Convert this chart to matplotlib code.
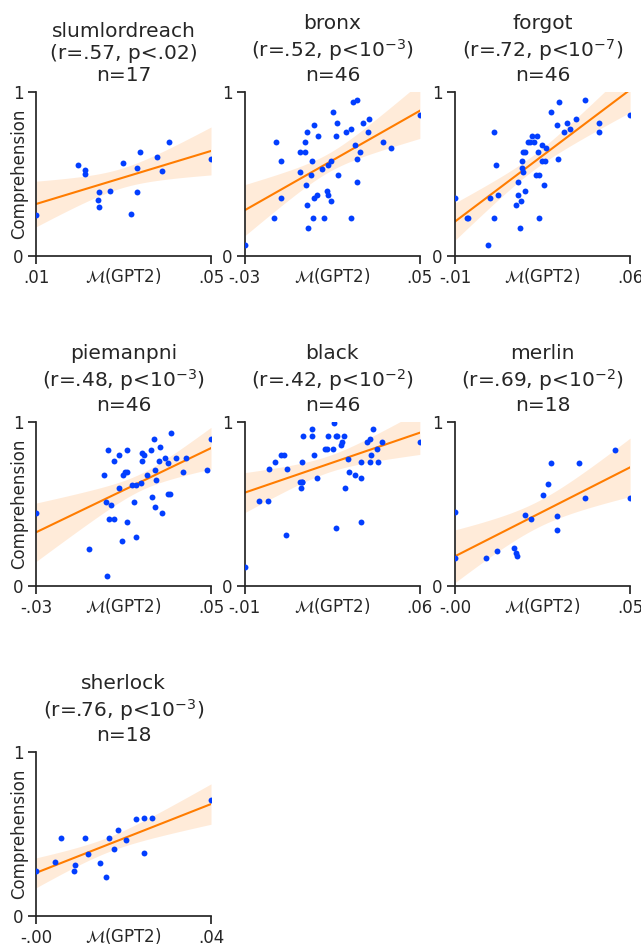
import numpy as np
import matplotlib
matplotlib.use('Agg')
import matplotlib.pyplot as plt

# Данные
stories = ['slumlordreach', 'bronx', 'forgot', 'piemanpni', 'black', 'merlin', 'sherlock']
stats = ['(r=.57, p<.02)', '(r=.52, p<10$^{-3}$)', '(r=.72, p<10$^{-7}$)',
         '(r=.48, p<10$^{-3}$)', '(r=.42, p<10$^{-2}$)', '(r=.69, p<10$^{-2}$)',
         '(r=.76, p<10$^{-3}$)']

slum_x = [.0100, .0196, .0213, .0211, .0243, .0241, .0245, .0270, .0298, .0316,
          .0330, .0330, .0338, .0376, .0387, .0405, .0500]
slum_y = [.248, .555, .522, .502, .392, .343, .297, .398, .565, .258,
          .539, .392, .636, .602, .518, .695, .591]

bronx_x = [-.0300, -.0169, -.0156, -.0136, -.0136, -.0050, -.0026, -.0026, -.0018, .0015,
           .0034, -.0050, .0006, .0003, -.0022, -.0017, -.0010, .0010, .0015, .0032,
           .0052, .0062, .0074, .0078, .0079, .0096, .0096, .0104, .0116, .0121,
           .0124, .0163, .0185, .0185, .0193, .0213, .0202, .0213, .0213, .0226,
           .0238, .0264, .0269, .0332, .0369, .0500]
bronx_y = [.069, .232, .695, .577, .356, .636, .636, .695, .754, .797,
           .732, .510, .577, .494, .435, .311, .171, .232, .356, .370,
           .530, .232, .394, .372, .553, .577, .333, .878, .732, .813,
           .494, .754, .774, .232, .937, .953, .675, .591, .453, .636,
           .813, .754, .833, .695, .657, .858]

forgot_x = [-.0100, -.0053, -.0048, .0032, .0039, .0054, .0054, .0065, .0072, .0142,
            .0151, .0153, .0158, .0164, .0166, .0167, .0170, .0173, .0179, .0179,
            .0191, .0207, .0214, .0227, .0230, .0224, .0236, .0237, .0248, .0249,
            .0256, .0260, .0263, .0282, .0308, .0312, .0317, .0335, .0349, .0359,
            .0383, .0419, .0475, .0477, .0600, .0198]
forgot_y = [.356, .232, .232, .069, .356, .754, .232, .555, .370, .311,
            .370, .453, .171, .333, .577, .535, .510, .636, .636, .394,
            .695, .732, .695, .732, .636, .494, .494, .232, .675, .577,
            .435, .577, .657, .878, .797, .591, .937, .754, .813, .774,
            .833, .953, .813, .754, .858, .695]

pieman_x = [-.0300, -.0058, .0025, .0010, .0019, .0043, .0033, .0056, .0030, .0056,
            .0078, .0078, .0095, .0098, .0109, .0115, .0118, .0137, .0149, .0155,
            .0159, .0179, .0186, .0186, .0194, .0208, .0225, .0230, .0241, .0243,
            .0243, .0248, .0262, .0266, .0278, .0290, .0303, .0303, .0312, .0318,
            .0340, .0370, .0387, .0480, .0500, .0115]
pieman_y = [.445, .226, .059, .679, .510, .494, .409, .409, .829, .764,
            .797, .598, .274, .679, .693, .392, .829, .618, .510, .295,
            .614, .628, .764, .813, .797, .679, .829, .543, .894, .709,
            .480, .644, .764, .846, .447, .780, .748, .559, .559, .931,
            .780, .693, .780, .709, .894, .693]

black_x = [-.0100, -.0045, -.0009, -.0002, .0019, .0046, .0057, .0066, .0069, .0125,
           .0128, .0130, .0129, .0133, .0169, .0167, .0176, .0189, .0219, .0227,
           .0232, .0252, .0258, .0263, .0264, .0286, .0289, .0296, .0299, .0314,
           .0317, .0339, .0363, .0363, .0366, .0390, .0399, .0402, .0406, .0414,
           .0430, .0431, .0449, .0600, .0270, .0121]
black_y = [.112, .518, .518, .715, .754, .797, .797, .311, .715, .596,
           .636, .636, .754, .915, .915, .957, .797, .657, .833, .833,
           .915, .833, .994, .915, .354, .858, .878, .915, .596, .774,
           .695, .675, .657, .754, .392, .878, .754, .894, .797, .957,
           .833, .754, .878, .878, .915, .636]

merlin_x = [-.0020, -.0020, .0073, .0104, .0155, .0162, .0163, .0189, .0205, .0241,
            .0255, .0265, .0283, .0283, .0348, .0366, .0456, .0500]
merlin_y = [.451, .167, .167, .215, .232, .203, .183, .435, .409, .555,
            .624, .748, .425, .343, .748, .537, .829, .537]

sherlock_x = [-.0020, .0025, .0041, .0071, .0073, .0098, .0105, .0134, .0149, .0156,
              .0168, .0177, .0195, .0221, .0240, .0240, .0258, .0400]
sherlock_y = [.274, .327, .474, .274, .311, .474, .380, .321, .236, .474,
              .409, .526, .461, .591, .596, .386, .596, .709]

all_x = [slum_x, bronx_x, forgot_x, pieman_x, black_x, merlin_x, sherlock_x]
all_y = [slum_y, bronx_y, forgot_y, pieman_y, black_y, merlin_y, sherlock_y]

BLUE = '#023eff'
ORANGE = '#ff7c00'


def t_crit(df):
    # приближение квантиля t-распределения (97.5%)
    z = 1.959964
    return z + (z**3 + z) / (4 * df) + (5 * z**5 + 16 * z**3 + 3 * z) / (96 * df**2)


def fmt(v):
    s = f'{v:.2f}'
    return s.replace('0.', '.')


plt.rcParams.update({
    'font.family': 'DejaVu Sans',
    'font.size': 12,
    'axes.edgecolor': '#262626',
    'axes.linewidth': 1.25,
    'xtick.major.width': 1.25,
    'ytick.major.width': 1.25,
    'xtick.major.size': 6,
    'ytick.major.size': 6,
    'ytick.major.pad': 3,
    'xtick.color': '#262626',
    'ytick.color': '#262626',
    'text.color': '#262626',
    'axes.labelcolor': '#262626',
})

fig = plt.figure(figsize=(6.41, 9.48), dpi=100)
lefts = [0.0562, 0.382, 0.710]
bottoms = [0.730, 0.382, 0.0338]
w, h = 0.273, 0.173

for i, name in enumerate(stories):
    r, c = divmod(i, 3)
    ax = fig.add_axes([lefts[c], bottoms[r], w, h])
    x = np.array(all_x[i])
    y = np.array(all_y[i])
    n = len(x)

    # линия регрессии и доверительный интервал
    xs = np.linspace(x.min(), x.max(), 100)
    b, a = np.polyfit(x, y, 1)
    yhat = a + b * xs
    resid = y - (a + b * x)
    s = np.sqrt(np.sum(resid**2) / (n - 2))
    sxx = np.sum((x - x.mean())**2)
    se = s * np.sqrt(1 / n + (xs - x.mean())**2 / sxx)
    tc = t_crit(n - 2)
    ax.fill_between(xs, yhat - tc * se, yhat + tc * se, color=ORANGE, alpha=0.15, lw=0)
    ax.plot(xs, yhat, color=ORANGE, lw=1.5)
    ax.scatter(x, y, s=18, color=BLUE, linewidths=0, zorder=3)

    ax.set_xlim(x.min(), x.max())
    ax.set_ylim(0, 1)
    ax.set_xticks([x.min(), x.max()])
    ax.set_xticklabels([fmt(x.min()), fmt(x.max())])
    ax.set_yticks([0, 1])
    ax.set_yticklabels(['0', '1'])
    ax.spines['top'].set_visible(False)
    ax.spines['right'].set_visible(False)
    ax.set_xlabel(r'$\mathcal{M}$(GPT2)', labelpad=-15)
    if c == 0:
        ax.set_ylabel('Comprehension', labelpad=-11)
    ax.set_title(f'{name}\n{stats[i]}\nn={n}', fontsize=14.5, pad=8)

plt.savefig('out.png', dpi=100)
